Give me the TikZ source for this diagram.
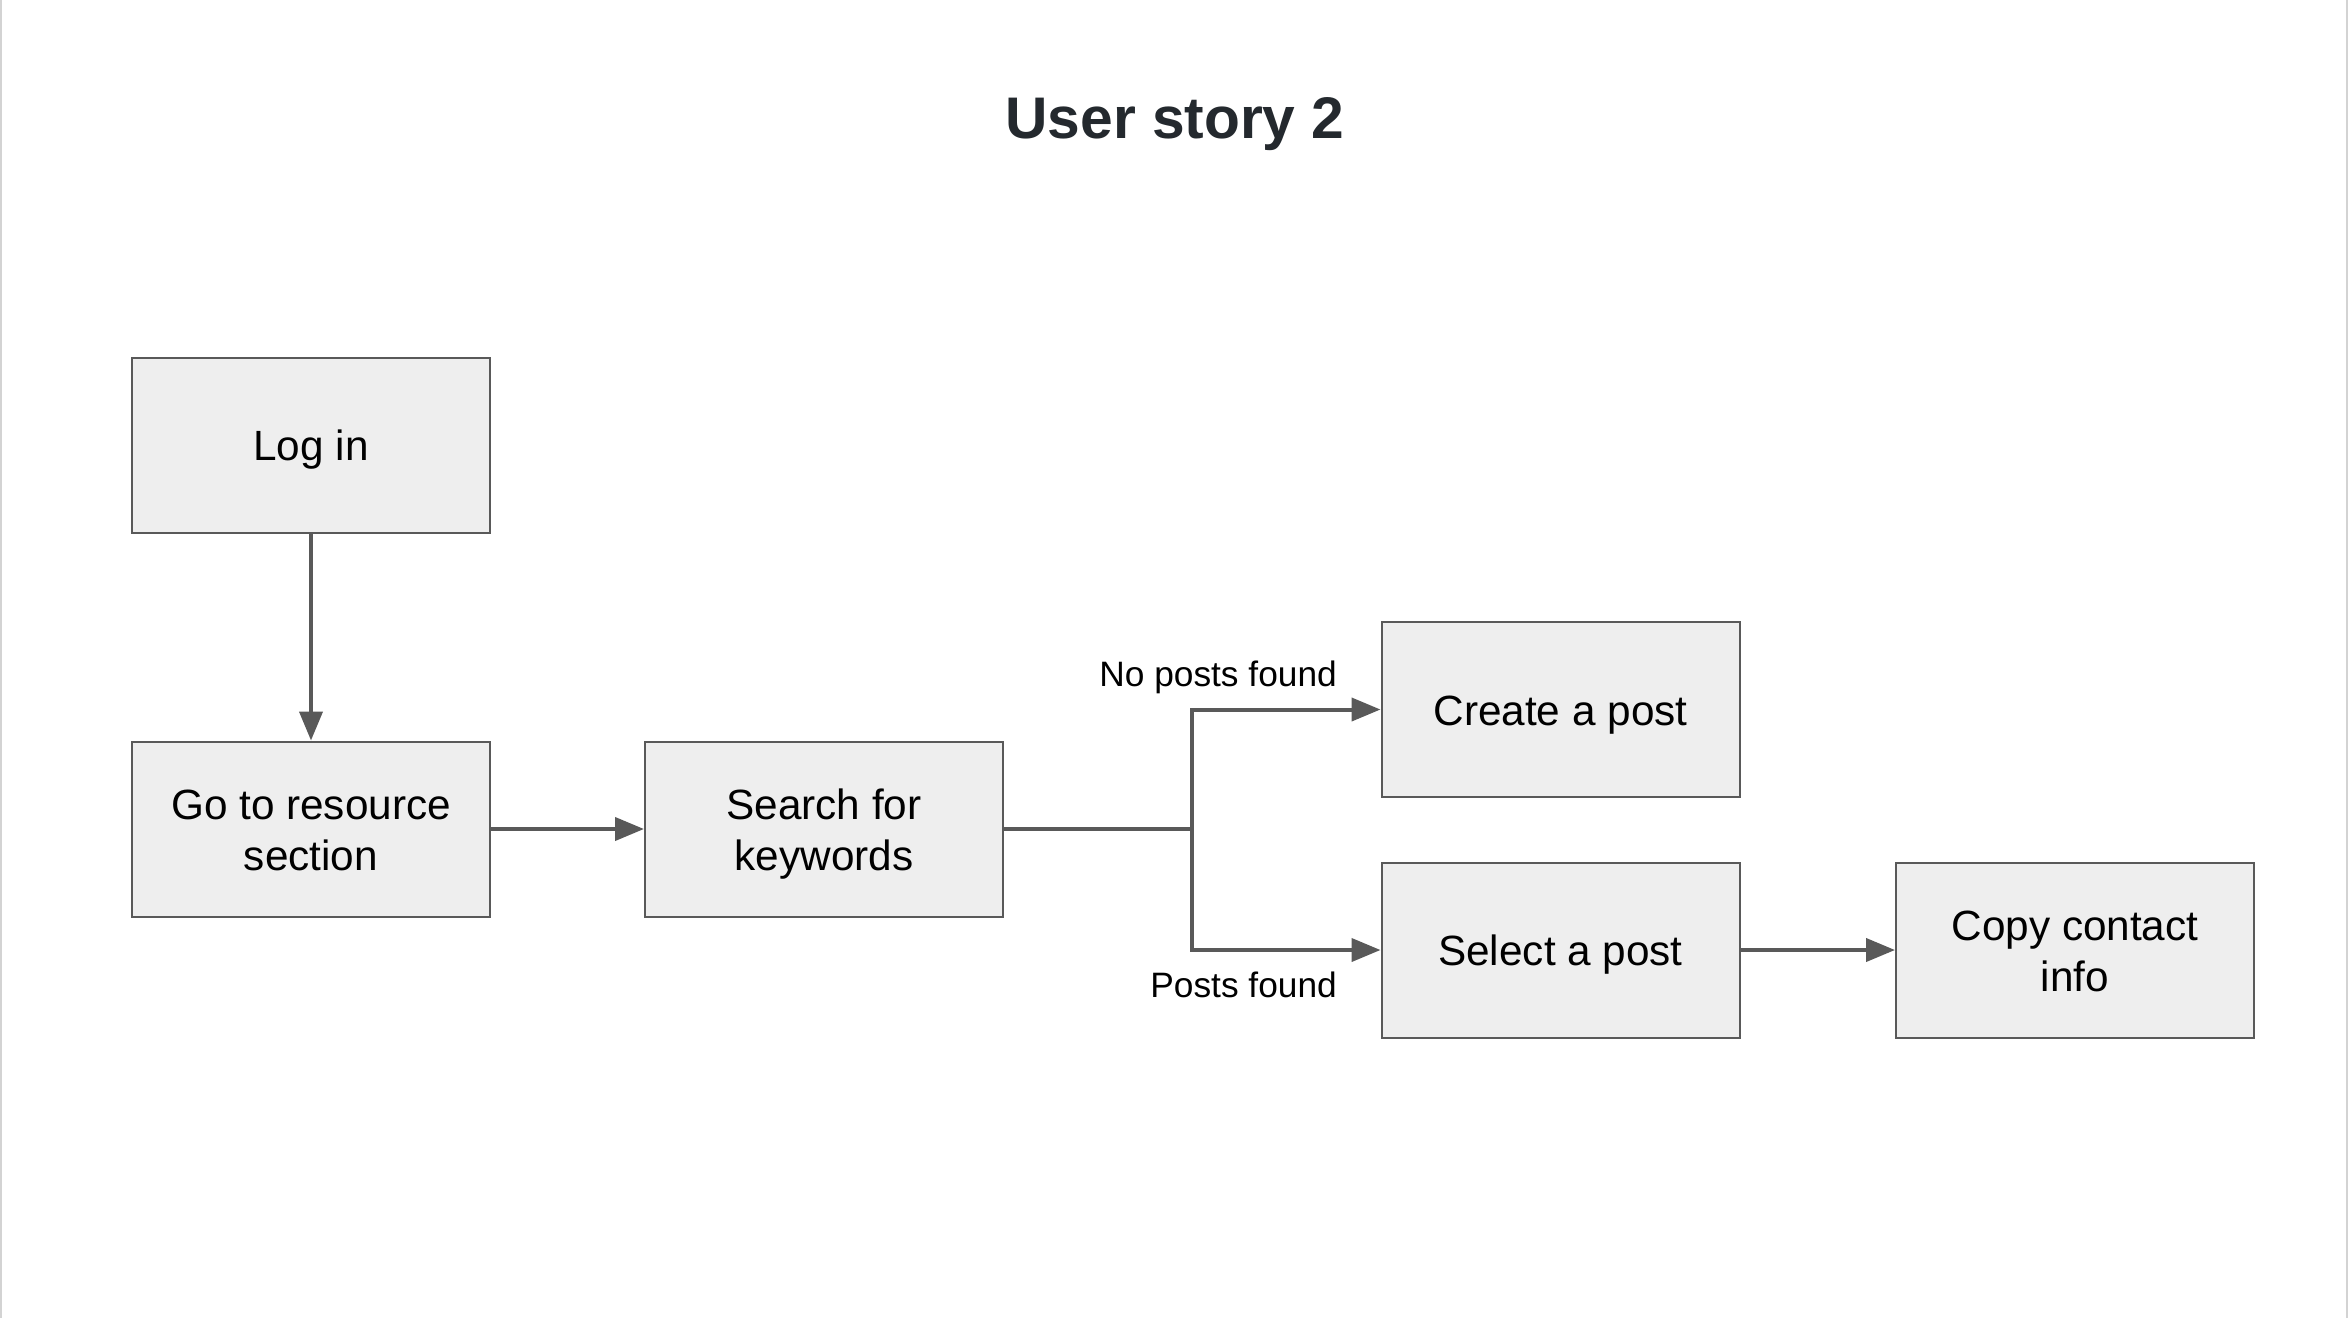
\documentclass[tikz,border=0pt]{standalone}
\usepackage{fontspec}
\setmainfont{Liberation Sans}
\usetikzlibrary{arrows.meta}
\definecolor{boxfill}{HTML}{EEEEEE}
\definecolor{edge}{HTML}{595959}
\definecolor{titlecol}{HTML}{24292E}
\definecolor{framecol}{HTML}{D3D3D3}
\newcommand{\bxstrut}{\rule[-9.4pt]{0pt}{50.4pt}}
\tikzset{
  stepbox/.style={draw=edge, fill=boxfill, line width=2pt, minimum width=358pt, minimum height=175pt, inner sep=0pt, align=center, font=\fontsize{42.3}{51}\selectfont},
  arr/.style={draw=edge, line width=4pt, -{Triangle[length=29pt,width=23pt]}},
  plainline/.style={draw=edge, line width=4pt},
  lbl/.style={font=\fontsize{35.3}{42}\selectfont, anchor=base east, inner sep=0pt}
}
\begin{document}
\begin{tikzpicture}[x=1pt,y=-1pt]
\useasboundingbox (0,0) rectangle (2348,1318);
\fill[white] (0,0) rectangle (2348,1318);
\draw[framecol, line width=2.5pt] (1.2,0) -- (1.2,1318);
\draw[framecol, line width=2.5pt] (2346.8,0) -- (2346.8,1318);
\node[font=\fontsize{58.7}{70}\selectfont\bfseries, text=titlecol, anchor=base, inner sep=0pt] (title) at (1175,138) {User story 2};
\node[stepbox] (login) at (311,445) {\bxstrut Log in};
\node[stepbox] (goto) at (311,829) {\bxstrut Go to resource\\\bxstrut section};
\node[stepbox] (search) at (824,829) {\bxstrut Search for\\\bxstrut keywords};
\node[stepbox] (create) at (1560.5,709.5) {\bxstrut Create a post};
\node[stepbox] (select) at (1560.5,950) {\bxstrut Select a post};
\node[stepbox] (copy) at (2075,950) {\bxstrut Copy contact\\\bxstrut info};
\coordinate (j) at (1192,829);
\draw[arr] (login) -- (goto);
\draw[arr] (goto) -- (search);
\draw[plainline] (search.east) -- (j);
\draw[arr] (j) |- (create.west);
\draw[arr] (j) |- (select.west);
\draw[arr] (select) -- (copy);
\node[lbl] (nolbl) at (1337,686.5) {No posts found};
\node[lbl] (yeslbl) at (1337,997) {Posts found};
\end{tikzpicture}
\end{document}
